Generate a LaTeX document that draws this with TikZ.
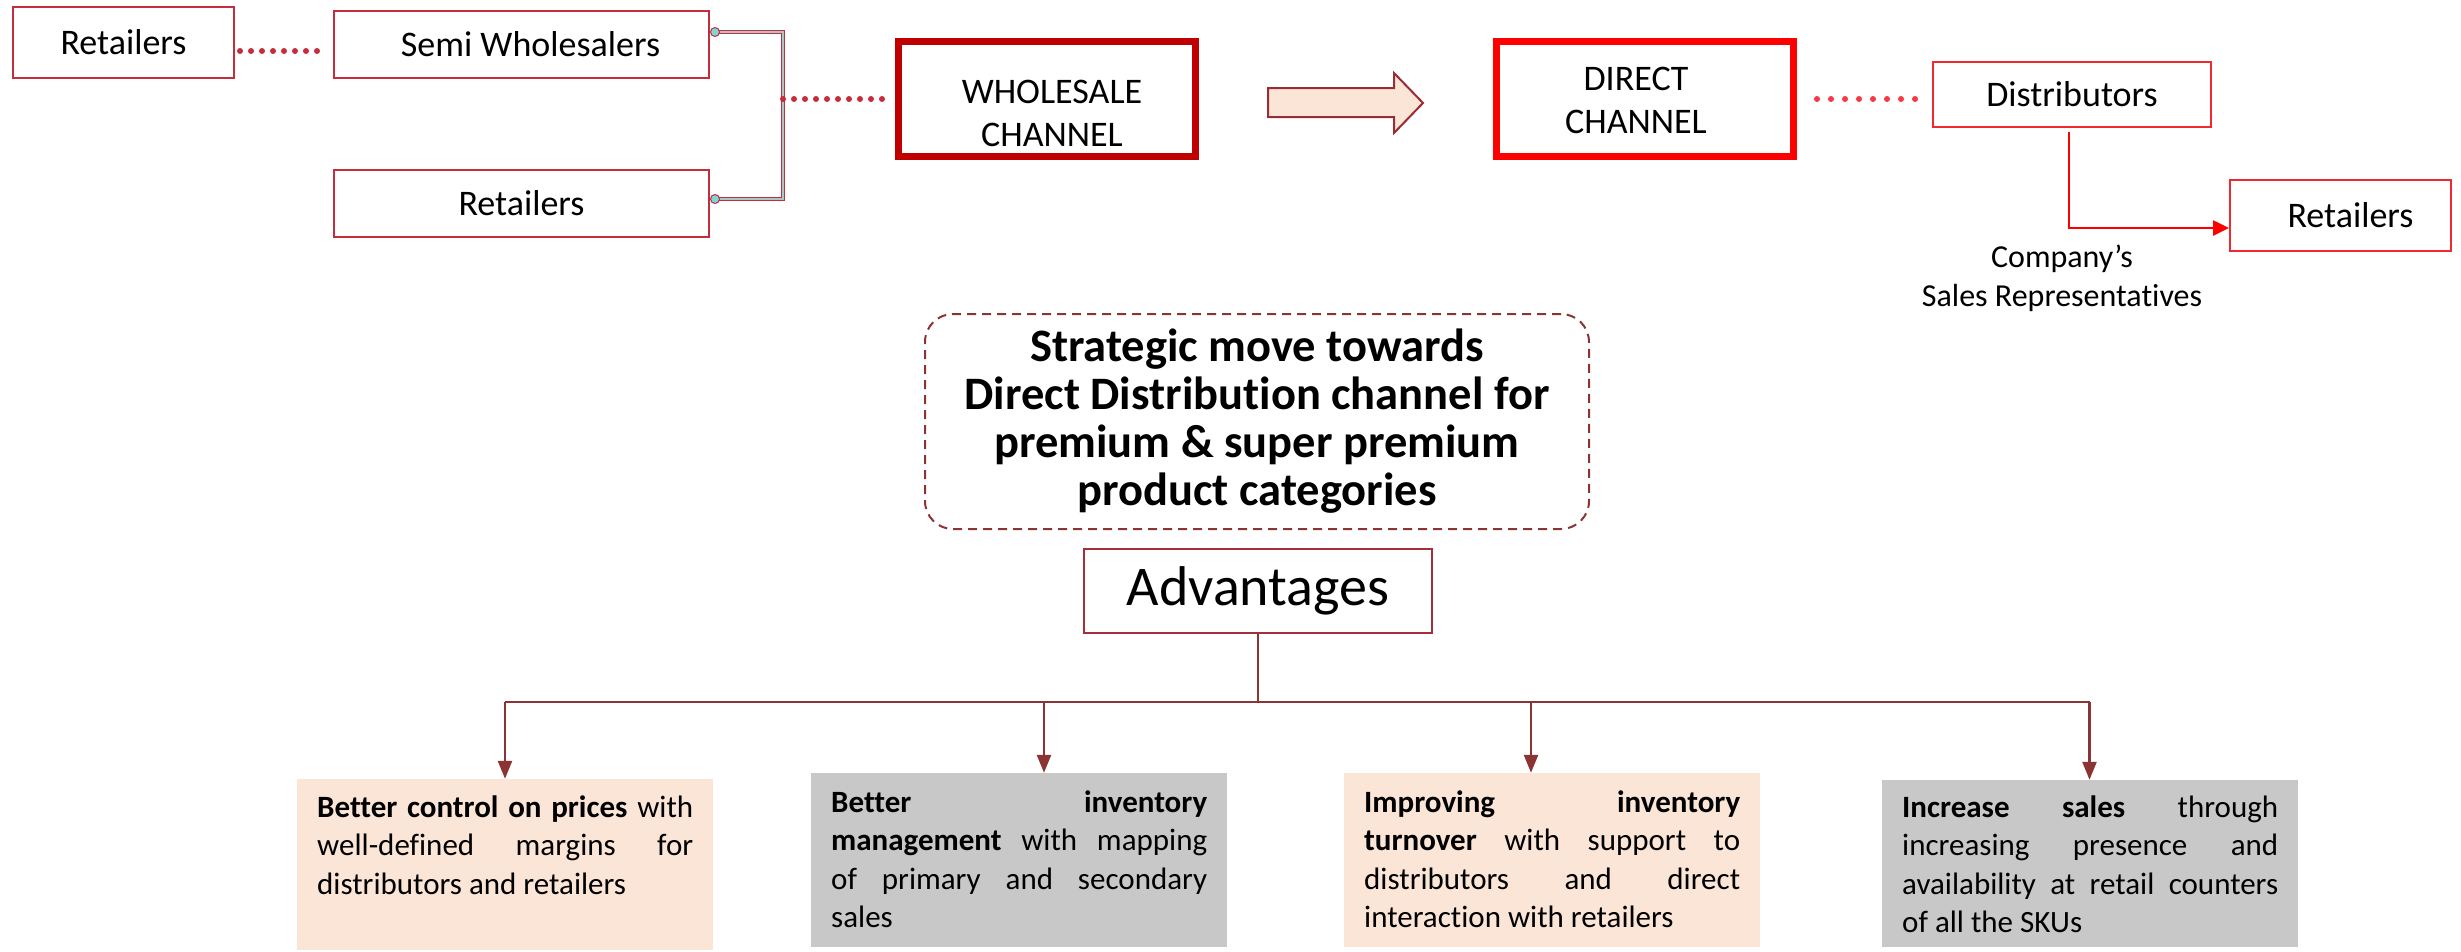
\documentclass[tikz,border=0pt]{standalone}
\usepackage{fontspec}
\setmainfont{Carlito}[Ligatures=NoCommon, Contextuals=NoAlternate]
\usetikzlibrary{arrows.meta}
\definecolor{crim}{HTML}{C62D3C}
\definecolor{wred}{HTML}{C00000}
\definecolor{dred}{HTML}{FF0000}
\definecolor{bred}{HTML}{F02830}
\definecolor{dotb}{HTML}{F43A48}
\definecolor{peach}{HTML}{FBE5D6}
\definecolor{gbox}{HTML}{C8C8C8}
\definecolor{brown}{HTML}{8B3434}
\definecolor{advred}{HTML}{A32F3C}
\definecolor{arrb}{HTML}{9B2B35}
\definecolor{cyanfill}{HTML}{7FD6D8}
\definecolor{brkin}{HTML}{A8C8C8}
\newcommand\myfontA{\fontsize{36}{43}\selectfont}
\newcommand\myfontB{\fontsize{32}{39}\selectfont}
\newcommand\myfontC{\fontsize{31}{38.5}\selectfont}
\newcommand\myfontD{\fontsize{46.5}{48}\selectfont\bfseries}
\newcommand\myfontE{\fontsize{56}{60}\selectfont}
\newcommand\jline[1]{\hbox to 376pt{\strut #1}}
\newcommand\lline[1]{\hbox to 376pt{\strut #1\hfil}}
\begin{document}
\begin{tikzpicture}[x=1pt,y=-1pt,
  lbox/.style={draw=crim, line width=2pt, inner sep=0pt, font=\myfontA},
  rbox/.style={draw=bred, line width=2pt, inner sep=0pt, font=\myfontA},
  chbox/.style={line width=7pt, inner sep=0pt, minimum width=297pt, minimum height=115pt},
  dotsA/.style={draw=crim, line width=6pt, line cap=round, dash pattern=on 0pt off 11pt},
  dotsB/.style={draw=dotb, line width=6pt, line cap=round, dash pattern=on 0pt off 14pt},
  brk/.style={draw=crim, line width=1.1pt, double=brkin, double distance=2pt},
  circ/.style={draw=crim, line width=1pt, fill=cyanfill},
  tree/.style={draw=brown, line width=2.5pt},
  treearr/.style={draw=brown, line width=2.5pt, -{Triangle[length=18pt,width=14pt]}},
  advbox/.style={inner sep=0pt, minimum width=416pt},
  advtext/.style={inner sep=0pt, font=\myfontC, anchor=north west}
]
\useasboundingbox (0,0) rectangle (2461,951);

% top left
\node[lbox, minimum width=221pt, minimum height=71pt] (r1) at (123.5,42.5) {Retailers};
\node[lbox, minimum width=375pt, minimum height=67pt] (semi) at (521.5,44.5) {\hspace*{18pt}Semi Wholesalers};
\node[lbox, minimum width=375pt, minimum height=67pt] (r2) at (521.5,203.5) {Retailers};

\coordinate (d1s) at ([xshift=5pt,yshift=-8.5pt]r1.east);
\coordinate (d1e) at (semi.west |- d1s);
\draw[dotsA] (d1s) -- ([xshift=-7pt]d1e);

\coordinate (bt) at ([xshift=5pt,yshift=12.5pt]semi.east);
\coordinate (bb) at ([xshift=5pt,yshift=4.5pt]r2.east);
\coordinate (bk) at (783,99);
\draw[brk] (bt) -- (bt -| bk) -- (bb -| bk) -- (bb);
\draw[circ] (bt) circle (4.5pt);
\draw[circ] (bb) circle (4.5pt);

% channels
\node[chbox, draw=wred] (whole) at (1047,99) {};
\node[font=\myfontA, align=center, inner sep=0pt] (wholetxt) at (1052,113.5) {WHOLESALE\\CHANNEL};
\draw[dotsA] (bk) -- ([xshift=-8pt]whole.west);

\draw[draw=arrb, line width=2pt, fill=peach] (1268,88) -- (1394,88) -- (1394,73) -- (1423,103) -- (1394,133) -- (1394,117) -- (1268,117) -- cycle;

\node[chbox, draw=dred] (direct) at (1645,99) {};
\node[font=\myfontA, align=center, inner sep=0pt] (directtxt) at (1636,100) {DIRECT\\CHANNEL};

\node[rbox, minimum width=278pt, minimum height=65pt] (dist) at (2072,94.5) {Distributors};
\node[rbox, minimum width=221pt, minimum height=71pt] (r3) at (2340.5,215.5) {\hspace*{20pt}Retailers};
\node[font=\myfontB, align=center, inner sep=0pt] (reps) at (2062,278.5) {Company’s\\Sales Representatives};

\coordinate (ds) at ([xshift=20pt]direct.east);
\coordinate (de) at (dist.west |- ds);
\draw[dotsB] (ds) -- ([xshift=-8pt]de);
\draw[draw=dred, line width=2.5pt, -{Triangle[length=16pt,width=15pt]}] ([xshift=-3pt,yshift=-4pt]dist.south) |- ([yshift=-12.5pt]r3.west);

% strategic
\node[draw=brown, line width=2pt, dash pattern=on 9pt off 6pt, rounded corners=28pt,
      minimum width=664pt, minimum height=215pt, align=center, font=\myfontD] (strat) at (1257,421.5)
  {Strategic move towards\\Direct Distribution channel for\\premium \& super premium\\product categories};

\node[draw=advred, line width=2.5pt, minimum width=348pt, minimum height=84pt, inner sep=0pt, font=\myfontE] (adv) at (1258,591) {Advantages};

% bottom boxes
\node[advbox, fill=peach, minimum height=171pt] (b1) at (505,864.5) {};
\node[advbox, fill=gbox, minimum height=174pt] (b2) at (1019,860) {};
\node[advbox, fill=peach, minimum height=174pt] (b3) at (1552,860) {};
\node[advbox, fill=gbox, minimum height=167pt] (b4) at (2089.5,863.5) {};

\node[advtext] (t1) at (317,790) {\vtop{\jline{\textbf{Better control on prices} with}\jline{well-defined margins for}\lline{distributors and retailers}}};
\node[advtext] (t2) at (831,785) {\vtop{\jline{\textbf{Better inventory}}\jline{\textbf{management} with mapping}\jline{of primary and secondary}\lline{sales}}};
\node[advtext] (t3) at (1364,785) {\vtop{\jline{\textbf{Improving inventory}}\jline{\textbf{turnover} with support to}\jline{distributors and direct}\lline{interaction with retailers}}};
\node[advtext] (t4) at (1902,790) {\vtop{\jline{\textbf{Increase sales} through}\jline{increasing presence and}\jline{availability at retail counters}\lline{of all the SKUs}}};

% tree
\coordinate (bar) at (1258,702);
\coordinate (a1) at (b1.north);
\coordinate (a2) at ([xshift=25pt]b2.north);
\coordinate (a3) at ([xshift=-21pt]b3.north);
\coordinate (a4) at (b4.north);
\draw[tree] (adv.south) -- (bar);
\draw[tree] (a1 |- bar) -- (a4 |- bar);
\draw[treearr] (a1 |- bar) -- (a1);
\draw[treearr] (a2 |- bar) -- (a2);
\draw[treearr] (a3 |- bar) -- (a3);
\draw[treearr] (a4 |- bar) -- (a4);
\end{tikzpicture}
\end{document}
